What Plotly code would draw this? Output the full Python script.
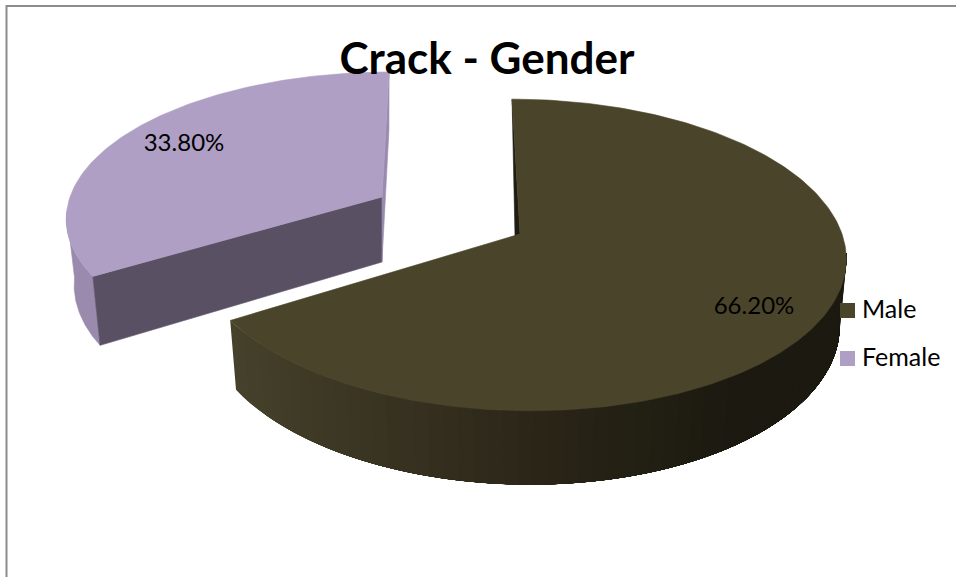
import math
import plotly.graph_objects as go

# ---- data
categories = ["Male", "Female"]
shares = [66.2, 33.8]
top_colors = ["#4a452a", "#b09fc4"]

W, H = 956, 577
FONT = "Lato"


def lerp_hex(c1, c2, t):
    a = [int(c1[i:i + 2], 16) for i in (1, 3, 5)]
    b = [int(c2[i:i + 2], 16) for i in (1, 3, 5)]
    return "#" + "".join(f"{round(p + (q - p) * t):02x}" for p, q in zip(a, b))


class Wedge:
    """Perspective projection of one pie slice on to the chart's axes."""

    def __init__(self, cx, cy, A, B, s, p, fx=0.975):
        self.cx, self.cy, self.A, self.B, self.s, self.p = cx, cy, A, B, s, p
        self.fx = fx

    def top(self, deg):
        u, v = math.sin(math.radians(deg)), math.cos(math.radians(deg))
        w = 1 + self.p * v
        return self.cx + (self.A * u + self.s * v) / w, self.cy - self.B * v / w

    def low(self, pt):
        return (self.cx + (pt[0] - self.cx) * self.fx,
                self.cy + (pt[1] - self.cy) * 1.05 + 65)


def arc(fn, a, b, n=120):
    return [fn(a + (b - a) * i / n) for i in range(n + 1)]


def poly(pts, color, width=0.6):
    return go.Scatter(
        x=[q[0] for q in pts] + [pts[0][0]],
        y=[q[1] for q in pts] + [pts[0][1]],
        mode="lines", fill="toself", fillcolor=color,
        line=dict(color=color, width=width),
        hoverinfo="skip", showlegend=False,
    )


split = 360 * shares[0] / sum(shares)
male = Wedge(520, 234, 322, 153, -9, 0.1346, fx=0.98)
female = Wedge(382, 197, 312, 141, 8, 0.128)

fig = go.Figure()

# ---- frame (left and top edges only, as in the reference)
fig.add_trace(go.Scatter(x=[6.5, 6.5, W], y=[H, 6, 6], mode="lines",
                         line=dict(color="#8c8c8c", width=2),
                         hoverinfo="skip", showlegend=False))

# ---- female slice
f_apex = (female.cx, female.cy)
f_side = arc(female.top, split, 264, 40)
fig.add_trace(poly(f_side + [female.low(q) for q in reversed(f_side)], "#9a8bae"))
p0 = female.top(split)
fig.add_trace(poly([p0, f_apex, female.low(f_apex), female.low(p0)], "#595064"))
p1 = female.top(360)
fig.add_trace(poly([p1, f_apex, female.low(f_apex), female.low(p1)], "#9a8bae"))
fig.add_trace(poly([f_apex] + arc(female.top, split, 360), top_colors[1]))

# ---- male slice: dark sliver, shaded side, top
m_apex = (male.cx, male.cy)
fig.add_trace(poly([male.top(0), (male.cx - 5, male.cy + 2), m_apex], "#1f1d11"))
n_strips = 60
t_start, t_end = split, 97
for i in range(n_strips):
    a = t_start + (t_end - t_start) * i / n_strips
    b = t_start + (t_end - t_start) * (i + 1) / n_strips
    xm = (male.top(a)[0] + male.top(b)[0]) / 2
    if xm < 540:
        col = lerp_hex("#46412b", "#2a2517", max(0, (xm - 230) / 310))
    else:
        col = lerp_hex("#2a2517", "#1b1910", min(1, (xm - 540) / 200))
    # each band reaches to the far end and is painted over by the next, so no seams
    band = arc(male.top, a, t_end, 80)
    fig.add_trace(poly(band + [male.low(q) for q in reversed(band)], col, width=0))
fig.add_trace(poly([m_apex] + arc(male.top, 0, split, 240), top_colors[0]))

# ---- data labels
fig.add_trace(go.Scatter(
    x=[754, 184], y=[308, 145], mode="text",
    text=[f"{v:.2f}%" for v in shares],
    textfont=dict(family=FONT, size=24, color="#000000"),
    hoverinfo="skip", showlegend=False,
))

# ---- legend keys and names
for name, col, yc in zip(categories, top_colors, [310.5, 358.5]):
    fig.add_trace(go.Scatter(
        x=[847.5], y=[yc], mode="markers", name=name,
        marker=dict(symbol="square", size=15, color=col),
        hoverinfo="skip", showlegend=False,
    ))
    fig.add_trace(go.Scatter(
        x=[862], y=[yc + 1], mode="text", text=[name], textposition="middle right",
        textfont=dict(family=FONT, size=25, color="#000000"),
        hoverinfo="skip", showlegend=False,
    ))

fig.update_layout(
    width=W, height=H, autosize=False,
    margin=dict(l=0, r=0, t=0, b=0),
    paper_bgcolor="#ffffff", plot_bgcolor="#ffffff",
    showlegend=False,
    xaxis=dict(range=[0, W], visible=False, fixedrange=True),
    yaxis=dict(range=[H, 0], visible=False, fixedrange=True),
    title=dict(text="<b>Crack - Gender</b>", x=487 / W, xanchor="center",
               y=1 - 59 / H, yanchor="middle",
               font=dict(family=FONT, size=44, color="#000000")),
)

fig.write_html("out.html", config={"displayModeBar": False},
               post_script="document.body.style.margin='0';")
